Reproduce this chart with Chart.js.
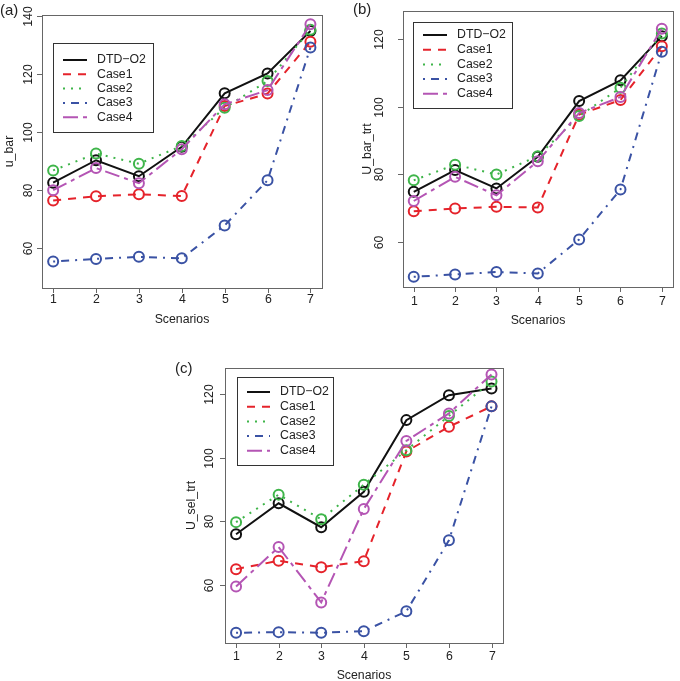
<!DOCTYPE html>
<html>
<head>
<meta charset="utf-8">
<script src="https://cdn.jsdelivr.net/npm/chart.js@4.4.1/dist/chart.umd.min.js"></script>
<style>
    body { margin: 0; background: #fff; width: 680px; height: 681px; position: relative; overflow: hidden; }
    canvas { position: absolute; }
</style>
</head>
<body>
<canvas id="chartA" width="340" height="330" style="left:0;top:0"></canvas>
<canvas id="chartB" width="340" height="330" style="left:340px;top:0"></canvas>
<canvas id="chartC" width="340" height="351" style="left:170px;top:330px"></canvas>
<script>
// ========== 1. DATA ==========

const scenarios = [1, 2, 3, 4, 5, 6, 7];
const seriesNames = ['DTD\u2212O2', 'Case1', 'Case2', 'Case3', 'Case4'];

// (a) u_bar
const uBarDTD = [82.6, 90.3, 84.8, 94.9, 113.3, 120.1, 134.7];
const uBarCase1 = [76.5, 77.9, 78.6, 78.0, 108.9, 113.2, 131.0];
const uBarCase2 = [86.8, 92.6, 89.1, 95.2, 108.3, 117.5, 135.1];
const uBarCase3 = [55.5, 56.4, 57.1, 56.6, 67.9, 83.4, 129.0];
const uBarCase4 = [80.0, 87.6, 82.4, 94.1, 109.5, 114.4, 137.0];
const uBarTicks = [60, 80, 100, 120, 140];

// (b) U_bar_trt
const uBarTrtDTD = [74.9, 81.3, 75.9, 85.2, 101.6, 107.7, 120.7];
const uBarTrtCase1 = [69.2, 70.0, 70.5, 70.3, 97.6, 101.9, 117.7];
const uBarTrtCase2 = [78.3, 82.9, 80.0, 85.4, 97.2, 105.5, 121.5];
const uBarTrtCase3 = [49.9, 50.6, 51.3, 50.9, 60.9, 75.6, 116.1];
const uBarTrtCase4 = [72.2, 79.3, 73.9, 83.9, 98.1, 102.8, 122.9];
const uBarTrtTicks = [60, 80, 100, 120];

// (c) U_sel_trt
const uSelTrtDTD = [76.0, 85.7, 78.2, 89.3, 111.7, 119.5, 121.6];
const uSelTrtCase1 = [65.1, 67.7, 65.7, 67.6, 101.9, 109.6, 116.0];
const uSelTrtCase2 = [79.8, 88.4, 80.7, 91.5, 102.3, 113.0, 123.8];
const uSelTrtCase3 = [45.2, 45.4, 45.2, 45.7, 51.9, 74.1, 116.0];
const uSelTrtCase4 = [59.7, 72.0, 54.7, 83.9, 105.2, 113.8, 126.0];
const uSelTrtTicks = [60, 80, 100, 120];

// ========== 2. STYLES ==========

const seriesColors = ['#111111', '#e5232b', '#3fb54a', '#3a52a4', '#b455b4'];
const seriesDashes = [[], [8, 7], [2, 6], [2, 6, 8, 6], [15, 5, 4, 5]];
const FONT = '"Liberation Sans", Arial, sans-serif';

// ========== 3. R-STYLE FRAME, AXES AND LEGEND ==========

const rPlot = {
    id: 'rPlot',
    afterDraw(chart, args, o) {
        const ctx = chart.ctx;
        const a = chart.chartArea;
        const x = chart.scales.x;
        const y = chart.scales.y;
        ctx.save();

        // plot box
        ctx.strokeStyle = '#666';
        ctx.lineWidth = 1;
        ctx.setLineDash([]);
        ctx.strokeRect(Math.round(a.left) + 0.5, Math.round(a.top) + 0.5,
            Math.round(a.right - a.left), Math.round(a.bottom - a.top));

        ctx.fillStyle = '#222';
        ctx.font = '12.3px ' + FONT;

        // x axis ticks
        ctx.textAlign = 'center';
        ctx.textBaseline = 'middle';
        scenarios.forEach(v => {
            const px = Math.round(x.getPixelForValue(v)) + 0.5;
            ctx.beginPath();
            ctx.moveTo(px, a.bottom);
            ctx.lineTo(px, a.bottom + 5);
            ctx.stroke();
            ctx.fillText(String(v), px, o.xTickY);
        });
        ctx.fillText('Scenarios', (a.left + a.right) / 2, o.xTitleY);

        // y axis ticks, labels rotated like R
        o.yTicks.forEach(v => {
            const py = Math.round(y.getPixelForValue(v)) + 0.5;
            ctx.beginPath();
            ctx.moveTo(a.left - 5, py);
            ctx.lineTo(a.left, py);
            ctx.stroke();
            ctx.save();
            ctx.translate(o.yTickX, py);
            ctx.rotate(-Math.PI / 2);
            ctx.fillText(String(v), 0, 0);
            ctx.restore();
        });
        ctx.save();
        ctx.translate(o.yTitleX, (a.top + a.bottom) / 2);
        ctx.rotate(-Math.PI / 2);
        ctx.fillText(o.yTitle, 0, 0);
        ctx.restore();

        // panel letter
        ctx.font = '15px ' + FONT;
        ctx.textAlign = 'left';
        ctx.fillText(o.panel, o.panelX, o.panelY);

        // legend
        const lg = o.legend;
        ctx.fillStyle = '#fff';
        ctx.fillRect(lg.left, lg.top, lg.right - lg.left, lg.bottom - lg.top);
        ctx.strokeStyle = '#333';
        ctx.strokeRect(Math.round(lg.left) + 0.5, Math.round(lg.top) + 0.5,
            Math.round(lg.right - lg.left), Math.round(lg.bottom - lg.top));
        ctx.font = '12.3px ' + FONT;
        seriesNames.forEach((name, i) => {
            const ry = lg.rows[i];
            ctx.strokeStyle = seriesColors[i];
            ctx.lineWidth = 2;
            ctx.setLineDash(seriesDashes[i]);
            ctx.beginPath();
            ctx.moveTo(lg.lineX1, ry);
            ctx.lineTo(lg.lineX2, ry);
            ctx.stroke();
            ctx.fillStyle = '#222';
            ctx.fillText(name, lg.textX, ry);
        });
        ctx.restore();
    }
};

// ========== 4. CHART BUILDER ==========

function buildDatasets(seriesList) {
    return seriesList.map((values, i) => ({
        label: seriesNames[i],
        data: scenarios.map((s, k) => ({x: s, y: values[k]})),
        borderColor: seriesColors[i],
        borderWidth: 2,
        borderDash: seriesDashes[i],
        pointStyle: 'circle',
        pointRadius: 5,
        pointBorderWidth: 2,
        pointBorderColor: seriesColors[i],
        pointBackgroundColor: 'rgba(0,0,0,0)',
        tension: 0,
        fill: false,
        clip: false,
        order: seriesList.length - i
    }));
}

function makePanel(canvasId, seriesList, box, yMin, yMax, opts) {
    const canvas = document.getElementById(canvasId);
    new Chart(canvas.getContext('2d'), {
        type: 'line',
        data: {datasets: buildDatasets(seriesList)},
        options: {
            responsive: false,
            animation: false,
            layout: {
                padding: {
                    left: box.left,
                    top: box.top,
                    right: canvas.width - box.right,
                    bottom: canvas.height - box.bottom
                }
            },
            scales: {
                x: {type: 'linear', min: 0.74, max: 7.27, display: false},
                y: {type: 'linear', min: yMin, max: yMax, display: false}
            },
            plugins: {
                legend: {display: false},
                tooltip: {enabled: false},
                rPlot: opts
            }
        },
        plugins: [rPlot]
    });
}

// (a)
makePanel('chartA',
    [uBarDTD, uBarCase1, uBarCase2, uBarCase3, uBarCase4],
    {left: 42, top: 15, right: 322, bottom: 288}, 46.4, 140.2,
    {
        yTicks: uBarTicks, yTitle: 'u_bar',
        yTickX: 29, yTitleX: 10, xTickY: 300, xTitleY: 320,
        panel: '(a)', panelX: 0, panelY: 10.5,
        legend: {left: 53, top: 43, right: 153, bottom: 132,
            rows: [60, 74.3, 88.6, 102.9, 117.2], lineX1: 63, lineX2: 87, textX: 97}
    });

// (b)
makePanel('chartB',
    [uBarTrtDTD, uBarTrtCase1, uBarTrtCase2, uBarTrtCase3, uBarTrtCase4],
    {left: 63, top: 11, right: 339, bottom: 287}, 46.9, 128.1,
    {
        yTicks: uBarTrtTicks, yTitle: 'U_bar_trt',
        yTickX: 40, yTitleX: 28, xTickY: 301.7, xTitleY: 320.7,
        panel: '(b)', panelX: 13, panelY: 9.5,
        legend: {left: 73, top: 22, right: 172, bottom: 108,
            rows: [35, 49.7, 64.4, 79.1, 93.8], lineX1: 83, lineX2: 107, textX: 117}
    });

// (c)
makePanel('chartC',
    [uSelTrtDTD, uSelTrtCase1, uSelTrtCase2, uSelTrtCase3, uSelTrtCase4],
    {left: 55, top: 38, right: 333, bottom: 313}, 42.0, 128.0,
    {
        yTicks: uSelTrtTicks, yTitle: 'U_sel_trt',
        yTickX: 40, yTitleX: 22, xTickY: 327, xTitleY: 346,
        panel: '(c)', panelX: 5, panelY: 38.5,
        legend: {left: 67, top: 47, right: 163, bottom: 135,
            rows: [62, 76.7, 91.4, 106.1, 120.8], lineX1: 77, lineX2: 100, textX: 110}
    });
</script>
</body>
</html>
